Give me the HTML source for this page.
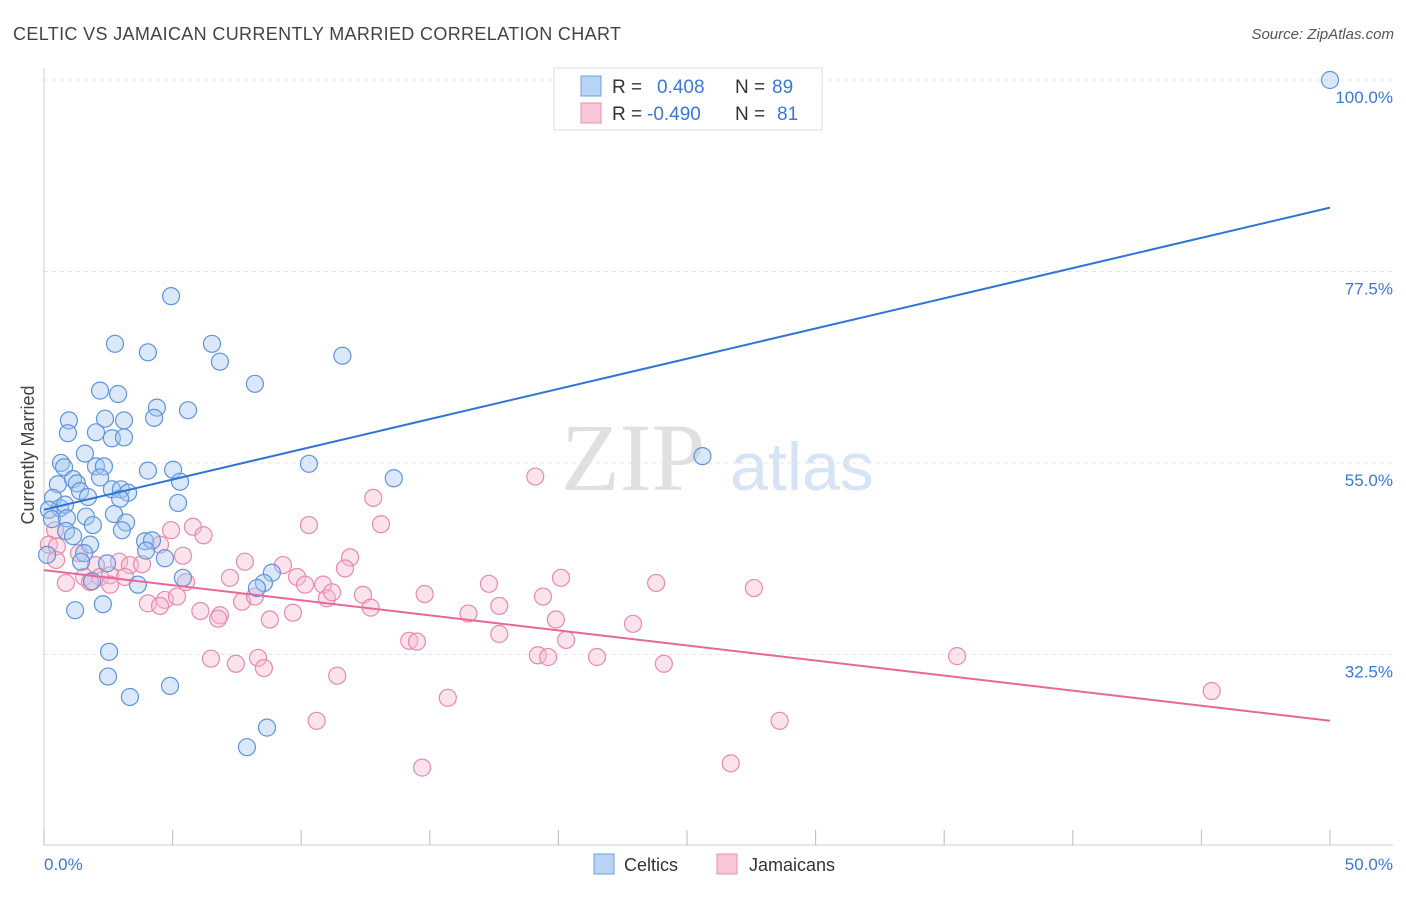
<!DOCTYPE html>
<html><head><meta charset="utf-8"><style>
body{margin:0;background:#fff;font-family:"Liberation Sans",sans-serif;}
svg text{font-family:"Liberation Sans",sans-serif;}
</style></head><body>
<svg id="chart" width="1406" height="892">
<text x="13" y="40" font-size="18" letter-spacing="0.35" fill="#444">CELTIC VS JAMAICAN CURRENTLY MARRIED CORRELATION CHART</text>
<text x="1394" y="39" font-size="15" fill="#555" font-style="italic" text-anchor="end">Source: ZipAtlas.com</text>
<g>
<text x="633" y="490" font-size="96" fill="#e0e0e0" text-anchor="middle" font-family="Liberation Serif" style="font-family:'Liberation Serif',serif">ZIP</text>
<text x="802" y="490" font-size="68" fill="#d6e4f5" text-anchor="middle">atlas</text>
</g>
<g id="grid"></g>
<g id="axes"></g>
<g id="marks"></g>
<text transform="translate(34,455) rotate(-90)" font-size="18" fill="#444" text-anchor="middle">Currently Married</text>
<g>
<rect x="554" y="68" width="268" height="62" fill="#fff" stroke="#ddd"/>
<rect x="581" y="76" width="20" height="20" fill="#b8d3f5" stroke="#6fa0e0"/>
<rect x="581" y="103" width="20" height="20" fill="#f8c6d8" stroke="#e890b0"/>
<text x="612" y="93" font-size="19" fill="#333">R =</text>
<text x="657" y="93" font-size="19" fill="#3a78d8">0.408</text>
<text x="735" y="93" font-size="19" fill="#333">N =</text>
<text x="772" y="93" font-size="19" fill="#3a78d8">89</text>
<text x="612" y="120" font-size="19" fill="#333">R =</text>
<text x="647" y="120" font-size="19" fill="#3a78d8">-0.490</text>
<text x="735" y="120" font-size="19" fill="#333">N =</text>
<text x="777" y="120" font-size="19" fill="#3a78d8">81</text>
</g>
<g>
<rect x="594" y="854" width="20" height="20" fill="#b8d3f5" stroke="#6fa0e0"/>
<text x="624" y="871" font-size="18" fill="#333">Celtics</text>
<rect x="717" y="854" width="20" height="20" fill="#f8c6d8" stroke="#e890b0"/>
<text x="749" y="871" font-size="18" fill="#333">Jamaicans</text>
</g>
</svg>
<script>
const yTicks=[32.5,55,77.5,100];
const yTickLabels=["32.5%","55.0%","77.5%","100.0%"];
const xTicks=[0,5,10,15,20,25,30,35,40,45,50];
const xTickLabels=["0.0%","50.0%"];
const celticX=[50,4.94,2.76,4.04,6.53,6.84,11.6,8.2,2.18,2.88,4.39,5.6,0.97,2.37,3.11,4.28,0.93,2.02,2.64,3.11,1.59,25.6,0.66,0.78,2.02,2.33,4.04,5.02,10.3,13.6,5.29,0.54,1.13,1.28,2.18,1.4,1.71,2.64,2.99,3.27,0.35,2.96,5.21,0.62,0.19,0.82,2.72,1.63,0.31,0.89,3.19,1.9,0.86,3.03,1.13,3.93,4.2,1.79,3.97,1.56,4.7,0.12,1.44,2.45,5.4,8.86,8.55,8.28,3.65,1.87,2.29,1.21,2.53,2.49,3.34,4.9,8.67,7.89];
const celticY=[100,74.6,69.0,68.0,69.0,66.9,67.6,64.3,63.5,63.1,61.5,61.2,60.0,60.2,60.0,60.3,58.5,58.6,57.9,58.0,56.1,55.8,55.0,54.5,54.6,54.6,54.1,54.2,54.9,53.2,52.8,52.5,53.1,52.6,53.3,51.7,51.0,51.9,51.9,51.5,50.9,50.8,50.3,49.7,49.5,50.1,49.0,48.7,48.4,48.5,48.0,47.7,47.0,47.1,46.4,45.8,45.9,45.4,44.7,44.4,43.8,44.2,43.4,43.2,41.5,42.1,40.9,40.3,40.7,41.1,38.4,37.7,32.8,29.9,27.5,28.8,23.9,21.6];
const jamX=[19.1,12.8,13.1,10.3,5.79,4.94,6.2,0.43,0.19,0.5,4.51,11.9,5.4,1.36,0.47,2.92,3.34,3.81,7.81,9.29,11.7,2.02,1.56,2.18,2.57,3.15,5.52,7.23,9.84,0.85,1.79,2.57,10.85,10.15,17.3,20.1,23.8,27.6,4.04,4.7,5.17,4.51,6.08,6.84,6.77,7.7,8.2,8.78,9.68,11.0,11.2,12.4,12.7,14.8,16.5,17.7,19.4,19.9,17.7,20.3,22.9,14.2,14.5,19.2,19.6,21.5,24.1,6.49,7.46,8.32,8.55,11.4,15.7,35.5,45.4,10.6,28.6,14.7,26.7];
const jamY=[53.4,50.9,47.8,47.7,47.5,47.1,46.5,47.1,45.4,45.2,45.4,43.9,44.1,44.4,43.6,43.4,43.0,43.1,43.4,43.0,42.6,43.0,41.6,41.6,41.8,41.6,41.0,41.5,41.6,40.9,41.0,40.7,40.7,40.7,40.8,41.5,40.9,40.3,38.5,38.9,39.3,38.2,37.6,37.1,36.7,38.7,39.3,36.6,37.4,39.1,39.8,39.5,38.0,39.6,37.3,38.2,39.3,36.6,34.9,34.2,36.1,34.1,34.0,32.4,32.2,32.2,31.4,32.0,31.4,32.1,30.9,30.0,27.4,32.3,28.2,24.7,24.7,19.2,19.7];
const celticTrend=[49.5,85.0];
const jamTrend=[42.4,24.7];

const NS="http://www.w3.org/2000/svg";
const X0=44,X1=1330,Y100=80,PXPER=8.51;
function xs(v){return X0+(X1-X0)*v/50;}
function ys(v){return Y100+(100-v)*PXPER;}
function mk(tag,attrs,parent){const e=document.createElementNS(NS,tag);for(const k in attrs)e.setAttribute(k,attrs[k]);parent.appendChild(e);return e;}
const grid=document.getElementById('grid'),axes=document.getElementById('axes'),marks=document.getElementById('marks');
yTicks.forEach((t,i)=>{
  const l=mk('line',{x1:X0,x2:1393,y1:ys(t),y2:ys(t),stroke:'#e4e4e4','stroke-dasharray':'4,4'},grid);
  
  
  const tx=mk('text',{x:1393,y:ys(t)+23,'font-size':17,fill:'#3a78d8','text-anchor':'end'},axes);
  tx.textContent=yTickLabels[i];
  
  
});
let a=mk('line',{x1:X0,x2:X0,y1:68,y2:845,stroke:'#ccc'},axes);


a=mk('line',{x1:X0,x2:1393,y1:845,y2:845,stroke:'#ccc'},axes);


xTicks.forEach(t=>{
  const l=mk('line',{x1:xs(t),x2:xs(t),y1:830,y2:845,stroke:'#bbb'},axes);
  
  
});
let t0=mk('text',{x:44,y:870,'font-size':17,fill:'#3a78d8'},axes);t0.textContent=xTickLabels[0];


let t1=mk('text',{x:1393,y:870,'font-size':17,fill:'#3a78d8','text-anchor':'end'},axes);t1.textContent=xTickLabels[1];


function pts(xa,ya,fill,stroke,name){
  xa.forEach((x,i)=>{
    const c=mk('circle',{cx:xs(x),cy:ys(ya[i]),r:8.5,fill:fill,'fill-opacity':0.4,stroke:stroke,'stroke-width':1.2},marks);
    
    
  });
}
pts(jamX,jamY,'#f5b8cf','#e88aad','jamaican-point');
pts(celticX,celticY,'#a6c6f0','#5f94dc','celtic-point');
let tl=mk('line',{x1:xs(0),y1:ys(celticTrend[0]),x2:xs(50),y2:ys(celticTrend[1]),stroke:'#2f74d6','stroke-width':2},marks);


tl=mk('line',{x1:xs(0),y1:ys(jamTrend[0]),x2:xs(50),y2:ys(jamTrend[1]),stroke:'#e8679a','stroke-width':2},marks);


</script>
</body></html>
